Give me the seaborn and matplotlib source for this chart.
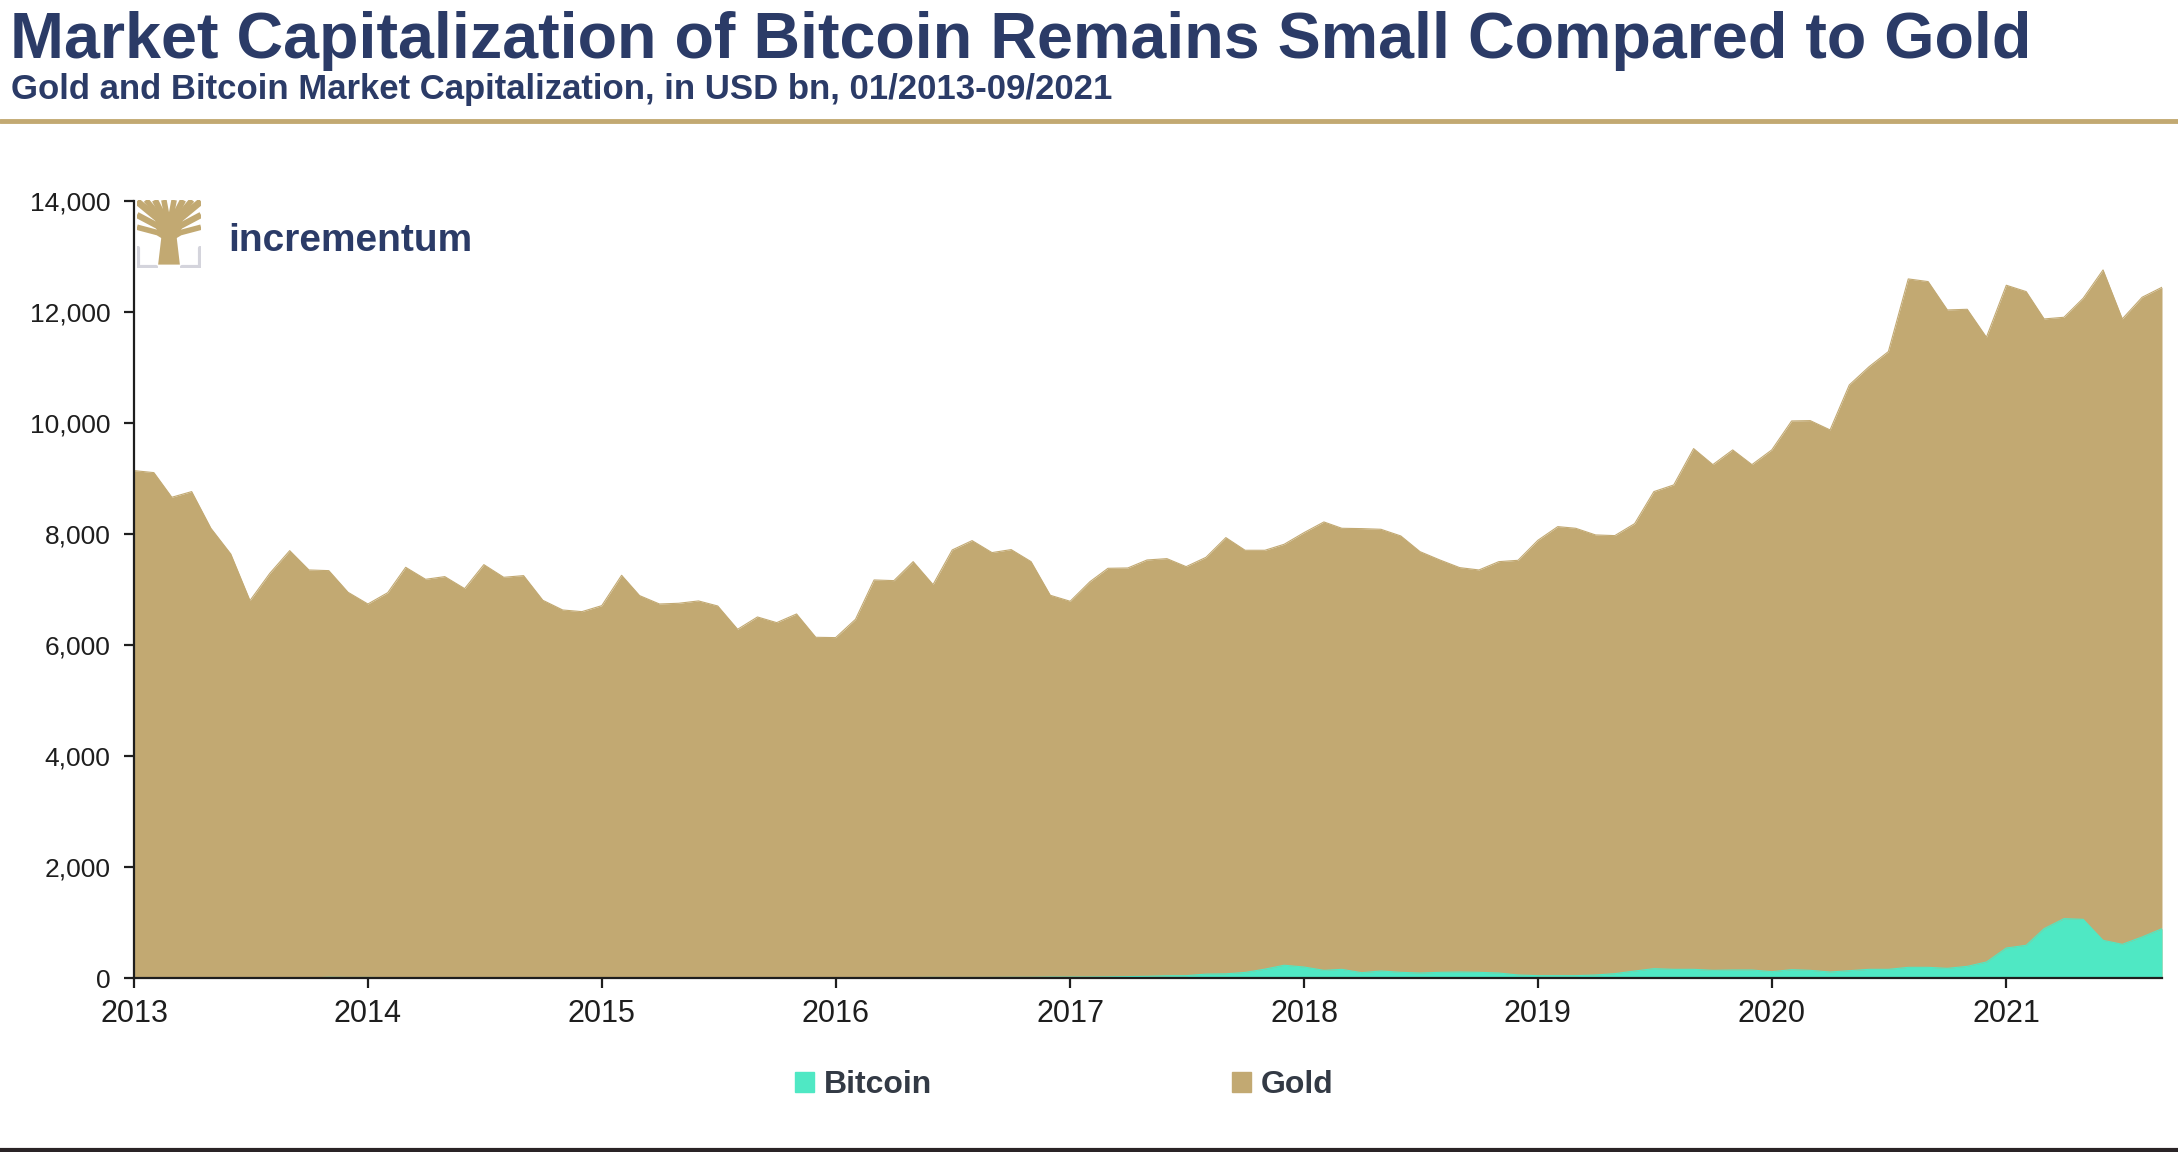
import matplotlib
matplotlib.use("Agg")
import matplotlib.pyplot as plt
import matplotlib.dates as mdates
from matplotlib.lines import Line2D
from matplotlib.patches import Patch, Polygon
import seaborn as sns
import pandas as pd
import numpy as np

# monthly values, USD bn, 01/2013 - 09/2021
months = pd.date_range("2013-01-01", periods=105, freq="MS")

gold = [
    9142, 9106, 8662, 8764, 8103, 7640, 6800, 7292, 7700, 7352, 7340, 6950,
    6739, 6943, 7400, 7184, 7232, 7016, 7448, 7220, 7250, 6806, 6631, 6601,
    6709, 7256, 6890, 6739, 6752, 6794, 6703, 6283, 6505, 6403, 6559, 6139,
    6133, 6463, 7172, 7160, 7502, 7088, 7713, 7881, 7665, 7719, 7502, 6896,
    6788, 7142, 7382, 7388, 7532, 7556, 7412, 7580, 7935, 7707, 7707, 7815,
    8025, 8217, 8103, 8097, 8085, 7965, 7682, 7532, 7394, 7352, 7502, 7526,
    7887, 8133, 8103, 7983, 7971, 8187, 8764, 8884, 9539, 9250, 9515, 9250,
    9515, 10037, 10043, 9875, 10686, 11016, 11287, 12596, 12548, 12037, 12049, 11545,
    12482, 12368, 11875, 11905, 12248, 12758, 11875, 12266, 12446,
]

bitcoin = [
    0.2, 0.4, 1.0, 1.5, 1.4, 1.2, 1.1, 1.3, 1.6, 2.3, 12, 9,
    10, 7, 6, 5.5, 7.5, 8, 7.5, 6.5, 5, 4.5, 5, 4.3,
    3, 3.5, 3.5, 3.3, 3.2, 3.8, 4.2, 3.4, 3.5, 4.6, 5, 6.5,
    5.8, 6.6, 6.4, 7, 8.5, 10.5, 9, 9.3, 9.7, 11.5, 11.7, 15.5,
    16, 17, 20, 25, 30, 40, 42, 70, 75, 100, 160, 230,
    198, 138, 156, 96, 126, 102, 90, 102, 108, 102, 90, 54,
    42, 42, 42, 54, 78, 126, 168, 156, 156, 138, 144, 144,
    114, 150, 138, 108, 132, 156, 156, 192, 192, 174, 210, 288,
    540, 589, 889, 1069, 1057, 679, 607, 739, 889,
]

yticks = [0, 2000, 4000, 6000, 8000, 10000, 12000, 14000]

title = "Market Capitalization of Bitcoin Remains Small Compared to Gold"
subtitle = "Gold and Bitcoin Market Capitalization, in USD bn, 01/2013-09/2021"

NAVY = "#2b3b67"
GOLD = "#c2a972"
BTC = "#4fe8c4"
INK = "#1e1e1e"

sns.set_theme(style="ticks")
plt.rcParams["font.family"] = ["Liberation Sans", "DejaVu Sans"]

df = pd.DataFrame({"Month": months, "Gold": gold, "Bitcoin": bitcoin})

W, H = 2178, 1152
fig = plt.figure(figsize=(W / 100, H / 100), dpi=100)
ax = fig.add_axes([134 / W, 1 - 978 / H, (2162 - 134) / W, (978 - 201) / H])

# gold area, bitcoin area drawn in front
ax.fill_between(df["Month"], 0, df["Gold"], color=GOLD, linewidth=0)
sns.lineplot(data=df, x="Month", y="Gold", ax=ax, color=GOLD, linewidth=0.8)
ax.fill_between(df["Month"], 0, df["Bitcoin"], color=BTC, linewidth=0)
sns.lineplot(data=df, x="Month", y="Bitcoin", ax=ax, color=BTC, linewidth=0.8)

ax.set_xlim(months[0], months[-1])
ax.set_ylim(0, 14000)
ax.set_yticks(yticks)
ax.yaxis.set_major_formatter(matplotlib.ticker.FuncFormatter(lambda v, p: f"{int(v):,}"))
ax.xaxis.set_major_locator(mdates.YearLocator())
ax.xaxis.set_major_formatter(mdates.DateFormatter("%Y"))
ax.set_xlabel("")
ax.set_ylabel("")
for s in ["top", "right"]:
    ax.spines[s].set_visible(False)
for s in ["left", "bottom"]:
    ax.spines[s].set_linewidth(1.6)
    ax.spines[s].set_color(INK)
ax.tick_params(axis="both", direction="out", length=7, width=1.6, color=INK, labelcolor=INK)
ax.tick_params(axis="y", labelsize=19, pad=10)
ax.tick_params(axis="x", labelsize=22, pad=8)

# header
fig.text(10 / W, 1 - 58 / H, title, fontsize=46.5, fontweight="bold", color=NAVY, va="baseline")
fig.text(11 / W, 1 - 99 / H, subtitle, fontsize=25, fontweight="bold", color=NAVY, va="baseline")
fig.add_artist(Line2D([0, 1], [1 - 121 / H] * 2, color=GOLD, linewidth=3.5))
fig.add_artist(Line2D([0, 1], [1 - 1150 / H] * 2, color="#2a2426", linewidth=3))

# logo: stylised tree in a square with grey corner brackets
lg = fig.add_axes([137 / W, 1 - 268 / H, 64 / W, 68 / H])
lg.set_xlim(0, 1)
lg.set_ylim(0, 1)
lg.axis("off")
lg.add_patch(Polygon([[0.33, 0.05], [0.67, 0.05], [0.62, 0.45], [0.38, 0.45]], color=GOLD, lw=0))
branches = [(0.0, 0.98, 5), (0.14, 1.0, 4), (0.28, 1.0, 4.5), (0.42, 1.0, 4), (0.58, 1.0, 4),
            (0.72, 1.0, 4.5), (0.86, 1.0, 4), (1.0, 0.98, 5), (0.0, 0.78, 4.5), (1.0, 0.78, 4.5),
            (0.0, 0.6, 4), (1.0, 0.6, 4)]
for tx, ty, w in branches:
    xs = [0.5, 0.5 + (tx - 0.5) * 0.35, tx]
    ys = [0.42, 0.42 + (ty - 0.42) * 0.55, ty]
    lg.plot(xs, ys, color=GOLD, lw=w, solid_capstyle="butt")
lg.plot([0.02, 0.02, 0.3], [0.3, 0.02, 0.02], color="#d4d4dc", lw=3)
lg.plot([0.98, 0.98, 0.7], [0.3, 0.02, 0.02], color="#d4d4dc", lw=3)
fig.text(228 / W, 1 - 251 / H, "incrementum", fontsize=28, fontweight="bold", color=NAVY, va="baseline")

# legend
handles = [Patch(color=BTC, label="Bitcoin"), Patch(color=GOLD, label="Gold")]
leg = fig.legend(handles=handles, loc="center", bbox_to_anchor=(1064 / W, 1 - 1085 / H), ncol=2,
                 frameon=False, fontsize=23, handlelength=0.6, handleheight=0.6,
                 handletextpad=0.3, columnspacing=9.4)
for t in leg.get_texts():
    t.set_fontweight("bold")
    t.set_color("#333a45")

fig.savefig("out.png", dpi=100)
